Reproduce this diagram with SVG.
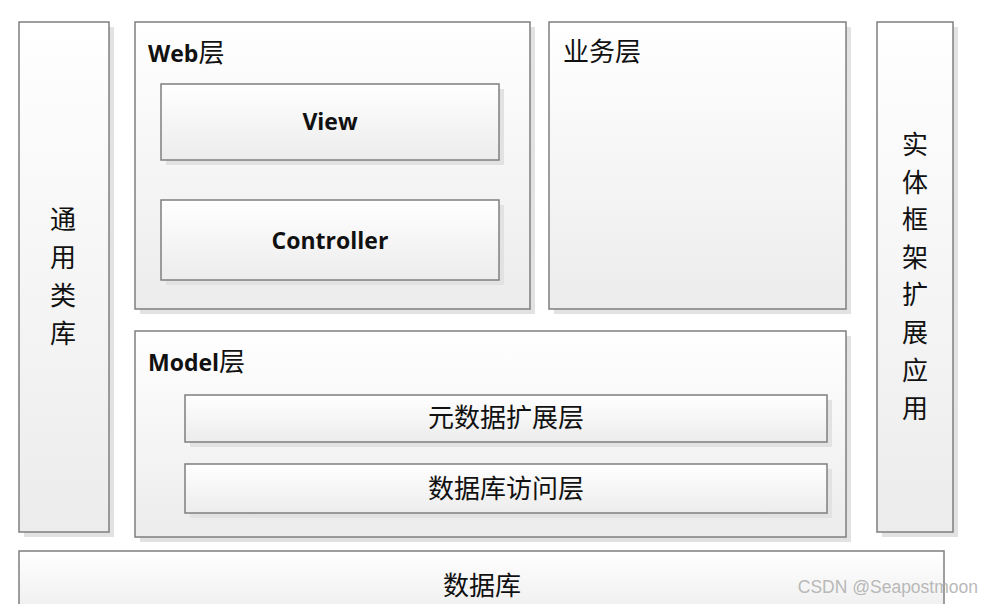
<svg xmlns="http://www.w3.org/2000/svg" width="982" height="604" viewBox="0 0 982 604">
<defs>
<linearGradient id="g" x1="0" y1="0" x2="0" y2="1">
<stop offset="0" stop-color="#ffffff"/>
<stop offset="1" stop-color="#ececec"/>
</linearGradient>
</defs>
<style>
.box{fill:url(#g);stroke:#7f7f7f;stroke-width:1.5}
.sh{fill:#e2e2e2}
.cn{font-family:"Noto Sans CJK SC","Noto Sans",sans-serif;font-size:26px;fill:#111}
.b{font-family:"Open Sans","Noto Sans CJK SC",sans-serif;font-weight:bold;font-size:23px;fill:#111}
.v{font-family:"Noto Sans CJK SC",sans-serif;font-size:26px;fill:#111;text-anchor:middle}
</style>
<rect width="982" height="604" fill="#ffffff"/>
<g id="common">
<rect class="sh" x="24" y="27" width="90" height="510"/>
<rect class="box" x="19" y="22" width="90" height="510"/>
<text class="v" x="63" y="229">通</text>
<text class="v" x="63" y="267">用</text>
<text class="v" x="63" y="305">类</text>
<text class="v" x="63" y="343">库</text>
</g>
<g id="web">
<rect class="sh" x="140" y="27" width="395" height="287"/>
<rect class="box" x="135" y="22" width="395" height="287"/>
<text class="b" x="148" y="62">Web<tspan class="cn" font-weight="normal">层</tspan></text>
</g>
<g id="view">
<rect class="sh" x="166" y="89" width="338" height="76"/>
<rect class="box" x="161" y="84" width="338" height="76"/>
<text class="b" x="330" y="130" text-anchor="middle">View</text>
</g>
<g id="controller">
<rect class="sh" x="166" y="205" width="338" height="80"/>
<rect class="box" x="161" y="200" width="338" height="80"/>
<text class="b" x="330" y="249" text-anchor="middle">Controller</text>
</g>
<g id="business">
<rect class="sh" x="554" y="27" width="297" height="287"/>
<rect class="box" x="549" y="22" width="297" height="287"/>
<text class="cn" x="563" y="61">业务层</text>
</g>
<g id="entity">
<rect class="sh" x="882" y="27" width="76" height="510"/>
<rect class="box" x="877" y="22" width="76" height="510"/>
<text class="v" x="915" y="154">实</text>
<text class="v" x="915" y="192">体</text>
<text class="v" x="915" y="229">框</text>
<text class="v" x="915" y="267">架</text>
<text class="v" x="915" y="304">扩</text>
<text class="v" x="915" y="342">展</text>
<text class="v" x="915" y="380">应</text>
<text class="v" x="915" y="418">用</text>
</g>
<g id="model">
<rect class="sh" x="140" y="336" width="711" height="206"/>
<rect class="box" x="135" y="331" width="711" height="206"/>
<text class="b" x="148" y="371">Model<tspan class="cn" font-weight="normal">层</tspan></text>
</g>
<g id="meta">
<rect class="sh" x="190" y="400" width="642" height="47"/>
<rect class="box" x="185" y="395" width="642" height="47"/>
<text class="cn" x="506" y="427" text-anchor="middle">元数据扩展层</text>
</g>
<g id="dal">
<rect class="sh" x="190" y="469" width="642" height="49"/>
<rect class="box" x="185" y="464" width="642" height="49"/>
<text class="cn" x="506" y="498" text-anchor="middle">数据库访问层</text>
</g>
<g id="db">
<rect class="box" x="19" y="551" width="925" height="70"/>
<text class="cn" x="482" y="595" text-anchor="middle">数据库</text>
</g>
<g id="connectors"></g>
<text x="978" y="593" text-anchor="end" font-family="Liberation Sans, sans-serif" font-size="17.5" fill="#b0b0b0" fill-opacity="0.9">CSDN @Seapostmoon</text>
</svg>
